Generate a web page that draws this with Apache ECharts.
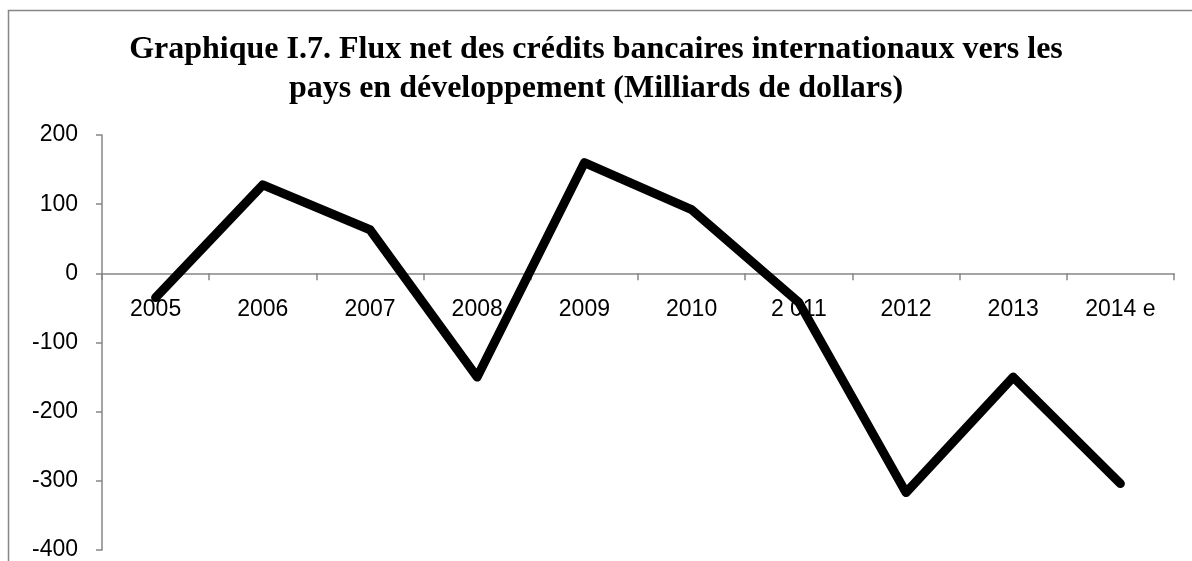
<!DOCTYPE html>
<html style="height: 100%">

<head>
	<meta charset="utf-8">
</head>

<body style="height: 100%; margin: 0; background: #fff">
	<div id="container" style="width: 1192px; height: 561px"></div>
	<script type="text/javascript" src="https://cdn.jsdelivr.net/npm/echarts@6/dist/echarts.min.js"></script>
	<script type="text/javascript">
		// données
		let years = ['2005', '2006', '2007', '2008', '2009', '2010', '2 011', '2012', '2013', '2014 e'];
		let fluxNet = [-35, 128, 63, -150, 160, 92, -42, -317, -150, -304];
		let yTicks = { min: -400, max: 200, step: 100 };

		let dom = document.getElementById("container");
		let myChart = echarts.init(dom);
		let grey = '#868686';

		let gridTop = 135;
		let gridBottom = 11;
		let gridHeight = 561 - gridTop - gridBottom;
		// the category axis sits on the zero line: shift it up from the grid bottom
		let zeroOffset = gridHeight * (0 - yTicks.min) / (yTicks.max - yTicks.min);

		let option = {
			animation: false,
			backgroundColor: '#fff',
			title: {
				text: 'Graphique I.7. Flux net des crédits bancaires internationaux vers les\npays en développement (Milliards de dollars)',
				left: 'center',
				top: 25,
				textStyle: {
					fontFamily: 'Liberation Serif',
					fontWeight: 'bold',
					fontSize: 32,
					lineHeight: 39,
					color: '#000'
				}
			},
			graphic: [
				{
					type: 'rect',
					shape: { x: 8.5, y: 10.5, width: 1200, height: 600 },
					style: { fill: 'none', stroke: grey, lineWidth: 1.5 },
					silent: true
				}
			],
			grid: {
				left: 102,
				right: 18,
				top: gridTop,
				bottom: gridBottom,
				containLabel: false,
				outerBoundsMode: 'none'
			},
			xAxis: {
				type: 'category',
				data: years,
				boundaryGap: true,
				offset: -zeroOffset,
				axisLine: { onZero: false, lineStyle: { color: grey, width: 1.5 } },
				axisTick: { show: true, length: 7, alignWithLabel: false, lineStyle: { color: grey, width: 1.5 } },
				axisLabel: {
					margin: 25,
					fontFamily: 'Liberation Sans',
					fontSize: 23,
					color: '#000',
					interval: 0
				},
				splitLine: { show: false }
			},
			yAxis: {
				type: 'value',
				min: yTicks.min,
				max: yTicks.max,
				interval: yTicks.step,
				axisLine: { show: true, lineStyle: { color: grey, width: 1.5 } },
				axisTick: { show: true, length: 6, lineStyle: { color: grey, width: 1.5 } },
				axisLabel: {
					margin: 24,
					fontFamily: 'Liberation Sans',
					fontSize: 23,
					color: '#000'
				},
				splitLine: { show: false }
			},
			series: [
				{
					type: 'line',
					data: fluxNet,
					showSymbol: false,
					symbol: 'none',
					lineStyle: { color: '#000', width: 9, cap: 'round', join: 'round' }
				}
			]
		};

		myChart.setOption(option);
	</script>
</body>
</html>
